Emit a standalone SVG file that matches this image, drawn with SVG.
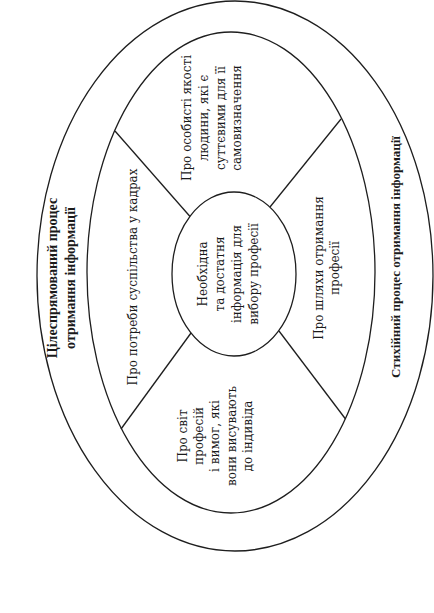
<svg xmlns="http://www.w3.org/2000/svg" width="434" height="613" viewBox="0 0 434 613">
<style>
.ln{fill:none;stroke:#1e1e1e;stroke-width:1.3}
text{fill:#1a1a1a;text-anchor:middle}
.b14{font-family:"Liberation Serif","DejaVu Serif",serif;font-weight:bold;font-size:14px}
.b13{font-family:"Liberation Serif","DejaVu Serif",serif;font-weight:bold;font-size:13px}
.r12{font-family:"DejaVu Serif","Liberation Serif",serif;font-size:12px}
</style>
<rect width="434" height="613" fill="#ffffff"/>
<g id="outer">
<ellipse class="ln" cx="235" cy="276" rx="198" ry="275"/>
<text class="b14" transform="rotate(-90)"><tspan x="-278" y="57">Цілеспрямований процес</tspan><tspan x="-278" y="75">отримання інформації</tspan></text>
<text class="b13" transform="rotate(-90)" x="-257" y="400">Стихійний процес отримання інформації</text>
</g>
<g id="ring">
<ellipse class="ln" cx="231" cy="272.5" rx="144" ry="240.5"/>
</g>
<g id="connectors">
<line class="ln" x1="270" y1="207" x2="341" y2="119"/>
<line class="ln" x1="190" y1="216.5" x2="115" y2="131"/>
<line class="ln" x1="191" y1="333" x2="121" y2="429"/>
<line class="ln" x1="279" y1="331" x2="345.5" y2="419"/>
</g>
<g id="center">
<ellipse class="ln" cx="234" cy="274" rx="62" ry="82" fill="#ffffff"/>
<text class="r12" transform="rotate(-90)"><tspan x="-274" y="206.5">Необхідна</tspan><tspan x="-274" y="223.5">та достатня</tspan><tspan x="-274" y="241">інформація для</tspan><tspan x="-274" y="258">вибору професії</tspan></text>
</g>
<g id="top">
<text class="r12" transform="rotate(-90)"><tspan x="-118" y="191">Про особисті якості</tspan><tspan x="-118" y="208">людини, які є</tspan><tspan x="-118" y="225">суттєвими для її</tspan><tspan x="-118" y="241">самовизначення</tspan></text>
</g>
<g id="left">
<text class="r12" transform="rotate(-90)" x="-277" y="137">Про потреби суспільства у кадрах</text>
</g>
<g id="right">
<text class="r12" transform="rotate(-90)"><tspan x="-268" y="323">Про шляхи отримання</tspan><tspan x="-268" y="339">професії</tspan></text>
</g>
<g id="bottom">
<text class="r12" transform="rotate(-90)"><tspan x="-436" y="187">Про світ</tspan><tspan x="-436" y="203">професій</tspan><tspan x="-436" y="219">і вимог, які</tspan><tspan x="-436" y="236">вони висувають</tspan><tspan x="-436" y="252">до індивіда</tspan></text>
</g>
</svg>
